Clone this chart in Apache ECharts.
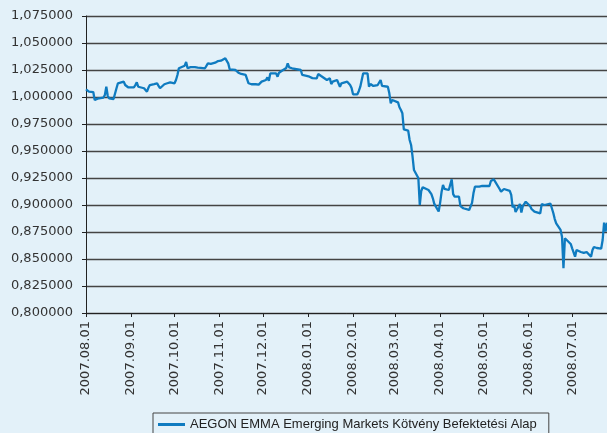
<!DOCTYPE html>
<html>
<head>
<meta charset="utf-8">
<script src="https://cdn.jsdelivr.net/npm/echarts@6/dist/echarts.min.js"></script>
<style>
html,body{margin:0;padding:0;background:#e3f1f9;}
#chart{width:607px;height:433px;}
</style>
</head>
<body>
<div id="chart"></div>
<script>
const seriesName = 'AEGON EMMA Emerging Markets Kötvény Befektetési Alap';
const dates = [
'2007-08-01','2007-08-02','2007-08-03','2007-08-06','2007-08-07','2007-08-08','2007-08-09','2007-08-10','2007-08-13','2007-08-14','2007-08-15','2007-08-16','2007-08-17','2007-08-20','2007-08-21','2007-08-22','2007-08-23','2007-08-24','2007-08-27','2007-08-28','2007-08-29','2007-08-30','2007-08-31',
'2007-09-03','2007-09-04','2007-09-05','2007-09-06','2007-09-07','2007-09-10','2007-09-11','2007-09-12','2007-09-13','2007-09-14','2007-09-17','2007-09-18','2007-09-19','2007-09-20','2007-09-21','2007-09-24','2007-09-25','2007-09-26','2007-09-27','2007-09-28',
'2007-10-01','2007-10-02','2007-10-03','2007-10-04','2007-10-05','2007-10-08','2007-10-09','2007-10-10','2007-10-11','2007-10-12','2007-10-15','2007-10-16','2007-10-17','2007-10-18','2007-10-19','2007-10-22','2007-10-24','2007-10-25','2007-10-26','2007-10-29','2007-10-30','2007-10-31',
'2007-11-02','2007-11-05','2007-11-06','2007-11-07','2007-11-08','2007-11-09','2007-11-12','2007-11-13','2007-11-14','2007-11-15','2007-11-16','2007-11-19','2007-11-20','2007-11-21','2007-11-22','2007-11-23','2007-11-26','2007-11-27','2007-11-28','2007-11-29','2007-11-30',
'2007-12-03','2007-12-04','2007-12-05','2007-12-06','2007-12-07','2007-12-10','2007-12-11','2007-12-12','2007-12-13','2007-12-14','2007-12-17','2007-12-18','2007-12-19','2007-12-20','2007-12-21','2007-12-27','2007-12-28','2007-12-31',
'2008-01-02','2008-01-03','2008-01-04','2008-01-07','2008-01-08','2008-01-09','2008-01-10','2008-01-11','2008-01-14','2008-01-15','2008-01-16','2008-01-17','2008-01-18','2008-01-21','2008-01-22','2008-01-23','2008-01-24','2008-01-25','2008-01-28','2008-01-29','2008-01-30','2008-01-31',
'2008-02-01','2008-02-04','2008-02-05','2008-02-06','2008-02-07','2008-02-08','2008-02-11','2008-02-12','2008-02-13','2008-02-14','2008-02-15','2008-02-18','2008-02-19','2008-02-20','2008-02-21','2008-02-22','2008-02-25','2008-02-26','2008-02-27','2008-02-28','2008-02-29',
'2008-03-03','2008-03-04','2008-03-05','2008-03-06','2008-03-07','2008-03-10','2008-03-11','2008-03-12','2008-03-13','2008-03-14','2008-03-17','2008-03-18','2008-03-19','2008-03-20','2008-03-21','2008-03-24','2008-03-25','2008-03-26','2008-03-27','2008-03-28','2008-03-31',
'2008-04-01','2008-04-02','2008-04-03','2008-04-04','2008-04-07','2008-04-08','2008-04-09','2008-04-10','2008-04-11','2008-04-14','2008-04-15','2008-04-16','2008-04-17','2008-04-18','2008-04-21','2008-04-22','2008-04-23','2008-04-24','2008-04-25','2008-04-28','2008-04-29','2008-04-30',
'2008-05-02','2008-05-05','2008-05-06','2008-05-07','2008-05-08','2008-05-09','2008-05-12','2008-05-13','2008-05-14','2008-05-15','2008-05-16','2008-05-19','2008-05-20','2008-05-21','2008-05-22','2008-05-23','2008-05-26','2008-05-27','2008-05-28','2008-05-29','2008-05-30',
'2008-06-02','2008-06-03','2008-06-04','2008-06-05','2008-06-06','2008-06-09','2008-06-10','2008-06-11','2008-06-12','2008-06-13','2008-06-16','2008-06-17','2008-06-18','2008-06-19','2008-06-20','2008-06-23','2008-06-24','2008-06-25','2008-06-26','2008-06-27','2008-06-30',
'2008-07-01','2008-07-02','2008-07-03','2008-07-04','2008-07-07','2008-07-08','2008-07-09','2008-07-10','2008-07-11','2008-07-14','2008-07-15','2008-07-16','2008-07-17','2008-07-18','2008-07-21','2008-07-22','2008-07-23','2008-07-24','2008-07-25'
];
const values = [
1.0071,1.0062,1.0049,1.0046,0.9972,0.9981,0.9985,0.9994,0.9995,1.0019,1.0095,1.0009,0.9988,0.9981,0.9981,1.0081,1.0127,1.0136,1.0142,1.0111,1.0127,1.0090,1.0086,
1.0090,1.0110,1.0136,1.0095,1.0083,1.0081,1.0070,1.0049,1.0085,1.0111,1.0120,1.0122,1.0127,1.0102,1.0081,1.0118,1.0122,1.0127,1.0132,1.0136,
1.0127,1.0157,1.0204,1.0266,1.0256,1.0290,1.0324,1.0266,1.0270,1.0276,1.0276,1.0266,1.0272,1.0276,1.0270,1.0266,1.0312,1.0296,1.0306,1.0318,1.0325,1.0333,
1.0336,1.0358,1.0340,1.0312,1.0256,1.0243,1.0250,1.0245,1.0225,1.0234,1.0213,1.0204,1.0194,1.0127,1.0120,1.0118,1.0118,1.0105,1.0115,1.0133,1.0142,
1.0157,1.0182,1.0151,1.0219,1.0204,1.0219,1.0188,1.0225,1.0225,1.0243,1.0269,1.0312,1.0275,1.0266,1.0266,1.0250,1.0204,1.0196,
1.0188,1.0173,1.0175,1.0173,1.0213,1.0200,1.0194,1.0182,1.0157,1.0165,1.0173,1.0120,1.0142,1.0157,1.0139,1.0095,1.0127,1.0135,1.0142,1.0133,1.0111,1.0083,
1.0025,1.0025,1.0056,1.0095,1.0157,1.0219,1.0219,1.0095,1.0120,1.0110,1.0102,1.0111,1.0127,1.0157,1.0102,1.0095,1.0095,1.0034,0.9942,0.9972,0.9963,
0.9950,0.9905,0.9880,0.9849,0.9700,0.9688,0.9602,0.9556,0.9450,0.9324,0.9250,0.9000,0.9130,0.9164,0.9150,0.9139,0.9139,0.9100,0.9062,0.9010,0.8940,
0.9020,0.9120,0.9185,0.9150,0.9139,0.9190,0.9238,0.9100,0.9077,0.9077,0.8990,0.8985,0.8970,0.8960,0.8954,0.8965,0.9020,0.9110,0.9170,0.9170,0.9180,0.9176,
0.9176,0.9176,0.9222,0.9238,0.9238,0.9230,0.9148,0.9123,0.9133,0.9148,0.9150,0.9130,0.9093,0.8979,0.9000,0.8935,0.9010,0.8930,0.8990,0.9000,0.9030,
0.8990,0.8963,0.8950,0.8938,0.8954,0.8923,0.9008,0.9009,0.9000,0.9009,0.9014,0.9006,0.8926,0.8870,0.8830,0.8769,0.8706,0.8414,0.8692,0.8690,0.8639,
0.8599,0.8583,0.8521,0.8583,0.8565,0.8583,0.8556,0.8574,0.8565,0.8521,0.8583,0.8611,0.8620,0.8602,0.8597,0.8676,0.8836,0.8753,0.8836
];
const xMin = '2007-08-01';
const xMax = '2008-07-25';
const yMin = 0.8, yMax = 1.075, yStep = 0.025;

const chart = echarts.init(document.getElementById('chart'), null, {renderer: 'canvas'});
const font = 'DejaVu Sans';
chart.setOption({
  backgroundColor: '#e3f1f9',
  animation: false,
  grid: {left: 86, right: 0, top: 16, bottom: 120, containLabel: false},
  legend: {
    left: 153, top: 413,
    padding: [5, 12, 6, 5],
    borderColor: '#444', borderWidth: 1,
    icon: 'rect', itemWidth: 27, itemHeight: 3,
    textStyle: {fontFamily: 'Liberation Sans', fontSize: 13, color: '#222'},
    data: [seriesName]
  },
  xAxis: {
    type: 'time',
    min: xMin, max: xMax,
    minInterval: 28 * 86400000,
    maxInterval: 31 * 86400000,
    axisLine: {lineStyle: {color: '#222', width: 1}},
    axisTick: {show: true, length: 4, lineStyle: {color: '#222'}},
    splitLine: {show: false},
    axisLabel: {
      rotate: 90, margin: 8,
      fontFamily: font, fontSize: 13, color: '#333',
      formatter: '{yyyy}.{MM}.{dd}',
      hideOverlap: false
    }
  },
  yAxis: {
    type: 'value',
    min: yMin, max: yMax, interval: yStep,
    axisLine: {show: true, lineStyle: {color: '#222', width: 1}},
    axisTick: {show: true, length: 4, lineStyle: {color: '#222'}},
    splitLine: {show: true, lineStyle: {color: '#444', width: 1.4}},
    axisLabel: {
      margin: 13, fontFamily: font, fontSize: 13, color: '#333',
      formatter: v => v.toFixed(6).replace('.', ',')
    }
  },
  series: [{
    name: seriesName,
    type: 'line',
    showSymbol: false,
    symbol: 'none',
    lineStyle: {color: '#0f7bc0', width: 2.3},
    itemStyle: {color: '#0f7bc0'},
    data: dates.map((d, i) => [d, values[i]])
  }]
});
</script>
</body>
</html>
